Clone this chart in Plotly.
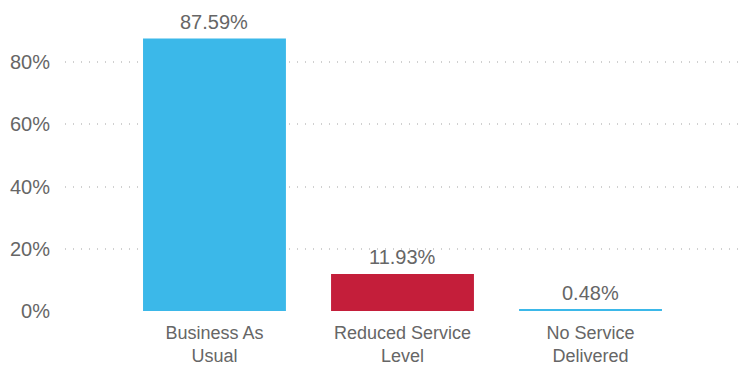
import plotly.graph_objects as go

categories = ["Business As<br>Usual", "Reduced Service<br>Level", "No Service<br>Delivered"]
values = [87.59, 11.93, 0.48]
colors = ["#3BB8E9", "#C41E3A", "#3BB8E9"]
y_ticks = [0, 20, 40, 60, 80]
y_tick_text = ["0%", "20%", "40%", "60%", "80%"]

FONT = "Liberation Sans, Arial"
GRAY = "#666666"

fig = go.Figure(go.Bar(
    x=categories, y=values,
    marker=dict(color=colors, line=dict(width=0)),
    width=0.76,
    cliponaxis=False,
))
for c, v in zip(categories, values):
    fig.add_annotation(x=c, y=v, text=f"{v:.2f}%", showarrow=False,
                       yanchor="bottom", yshift=4,
                       font=dict(size=20, color=GRAY, family=FONT))
fig.update_layout(
    width=740, height=368,
    margin=dict(l=65, r=0, t=31, b=57, autoexpand=False),
    plot_bgcolor="white", paper_bgcolor="white",
    font=dict(family=FONT, size=20, color=GRAY),
    showlegend=False,
)
fig.update_xaxes(range=[-0.795, 2.795], showgrid=False, showline=False, automargin=False,
                 ticks="outside", ticklen=5, tickcolor="rgba(0,0,0,0)",
                 tickfont=dict(size=18, color=GRAY, family=FONT))
fig.update_yaxes(range=[0, 90], tickvals=y_ticks, ticktext=y_tick_text, automargin=False,
                 showgrid=True, gridcolor="#d0d0d0", griddash="1px,7px", gridwidth=1.5,
                 zeroline=False, showline=False, ticks="outside", ticklen=10,
                 tickcolor="rgba(0,0,0,0)")
fig.write_html("out.html")
